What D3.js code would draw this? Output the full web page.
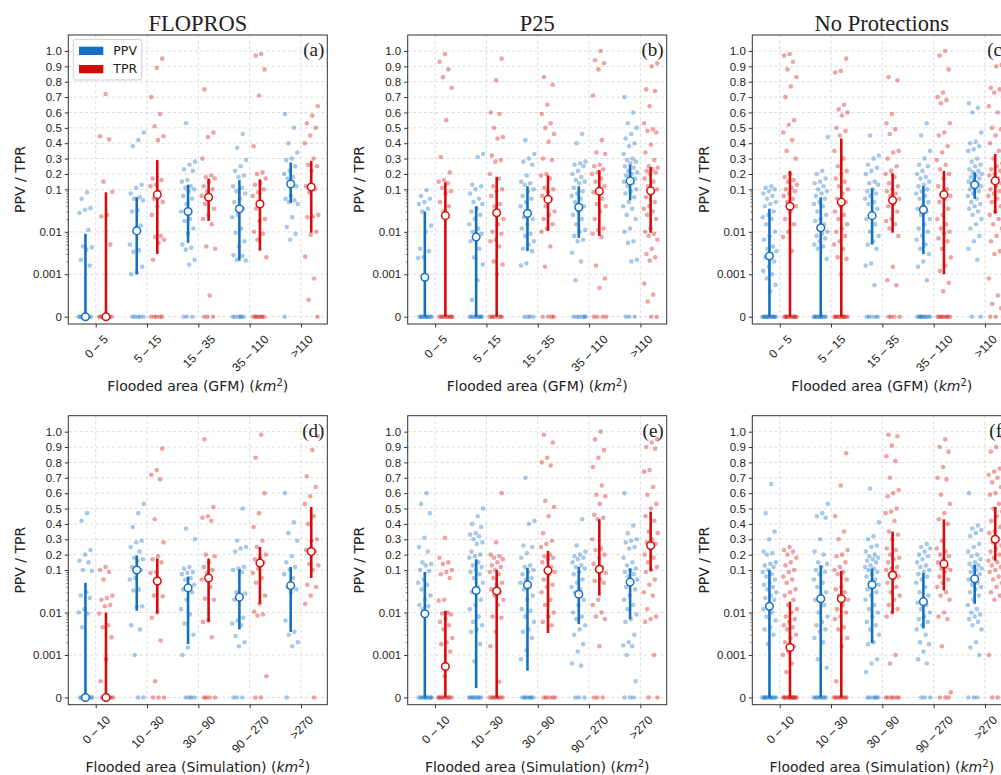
<!DOCTYPE html>
<html>
<head>
<meta charset="utf-8">
<script src="https://cdn.jsdelivr.net/npm/d3@7"></script>
<style>
  body { margin: 0; background: #fff; }
  text { fill: #222; }
</style>
</head>
<body>
<script>
// categories and labels
var gfmCats = ["0 – 5", "5 – 15", "15 – 35", "35 – 110", ">110"]
var simCats = ["0 – 10", "10 – 30", "30 – 90", "90 – 270", ">270"]
var panelTitles = ["FLOPROS", "P25", "No Protections"]
var panelTags = ["(a)", "(b)", "(c)", "(d)", "(e)", "(f)"]
var yTickValues = [0, 0.001, 0.01, 0.1, 0.2, 0.3, 0.4, 0.5, 0.6, 0.7, 0.8, 0.9, 1.0]
var yTickLabels = ["0", "0.001", "0.01", "0.1", "0.2", "0.3", "0.4", "0.5", "0.6", "0.7", "0.8", "0.9", "1.0"]
var yMinorTicks = [0.002, 0.003, 0.004, 0.005, 0.006, 0.007, 0.008, 0.009,
                   0.02, 0.03, 0.04, 0.05, 0.06, 0.07, 0.08, 0.09]

// bars per category: [median, low, high]
var aPpvBars = [[0, 0, 0.009], [0.0105, 0.001, 0.065], [0.03, 0.0055, 0.13], [0.035, 0.0021, 0.16], [0.135, 0.048, 0.275]]
var aTprBars = [[0, 0, 0.085], [0.075, 0.003, 0.29], [0.065, 0.018, 0.17], [0.045, 0.0036, 0.165], [0.115, 0.0095, 0.285]]
var bPpvBars = [[0.00093, 0, 0.03], [0.0075, 0, 0.04], [0.027, 0.0035, 0.12], [0.038, 0.0072, 0.12], [0.155, 0.055, 0.26]]
var bTprBars = [[0.024, 0, 0.145], [0.028, 0, 0.18], [0.058, 0.0105, 0.19], [0.09, 0.008, 0.225], [0.092, 0.0095, 0.245]]
var cPpvBars = [[0.0027, 0, 0.035], [0.0125, 0, 0.065], [0.024, 0.005, 0.105], [0.033, 0.003, 0.12], [0.13, 0.06, 0.21]]
var cTprBars = [[0.04, 0, 0.22], [0.05, 0, 0.43], [0.055, 0.0095, 0.205], [0.075, 0.001, 0.22], [0.155, 0.027, 0.33]]
var dPpvBars = [[0, 0, 0.05], [0.1, 0.011, 0.195], [0.038, 0.0018, 0.07], [0.023, 0.004, 0.105], [0.043, 0.0035, 0.12]]
var dTprBars = [[0, 0, 0.01], [0.055, 0.0095, 0.175], [0.065, 0.006, 0.175], [0.145, 0.016, 0.25], [0.22, 0.065, 0.51]]
var ePpvBars = [[0.0093, 0, 0.09], [0.033, 0.00022, 0.17], [0.045, 0.00063, 0.115], [0.027, 0.0053, 0.12], [0.052, 0.007, 0.11]]
var eTprBars = [[0.00073, 0, 0.011], [0.032, 0, 0.1], [0.097, 0.0033, 0.225], [0.105, 0.025, 0.43], [0.26, 0.095, 0.48]]
var fPpvBars = [[0.014, 0, 0.1], [0.021, 0, 0.13], [0.045, 0.0019, 0.11], [0.018, 0.0042, 0.085], [0.062, 0.016, 0.135]]
var fTprBars = [[0.0015, 0, 0.018], [0.021, 0, 0.095], [0.075, 0.0095, 0.35], [0.14, 0.033, 0.43], [0.3, 0.16, 0.51]]

// individual event values per category
var aPpvPts = [
  [0.085, 0.06, 0.036, 0.033, 0.028, 0.011, 0.0045, 0.0043, 0.0038, 0.0022, 0.0016, 0, 0, 0, 0, 0, 0, 0, 0],
  [0.47, 0.42, 0.38, 0.13, 0.11, 0.08, 0.065, 0.06, 0.055, 0.032, 0.03, 0.014, 0.012, 0.005, 0.0037, 0.0034, 0.0015, 0.0011, 0.001, 0, 0, 0, 0, 0],
  [0.53, 0.28, 0.26, 0.23, 0.22, 0.16, 0.15, 0.12, 0.11, 0.1, 0.09, 0.07, 0.06, 0.045, 0.03, 0.02, 0.018, 0.012, 0.009, 0.005, 0.0042, 0.0038, 0.0022, 0.0017, 0, 0, 0],
  [0.46, 0.37, 0.29, 0.25, 0.22, 0.19, 0.18, 0.12, 0.11, 0.09, 0.08, 0.06, 0.05, 0.035, 0.025, 0.022, 0.012, 0.0095, 0.006, 0.0045, 0.0028, 0.0027, 0.0022, 0.0021, 0, 0, 0, 0, 0, 0],
  [0.59, 0.5, 0.4, 0.34, 0.3, 0.29, 0.25, 0.22, 0.2, 0.18, 0.17, 0.12, 0.07, 0.06, 0.055, 0.05, 0.045, 0.022, 0.013, 0.009, 0.0065, 0]
]
var aTprPts = [
  [0.72, 0.445, 0.425, 0.15, 0.088, 0.025, 0.023, 0.005, 0, 0, 0, 0, 0, 0, 0, 0],
  [0.95, 0.89, 0.7, 0.59, 0.51, 0.445, 0.42, 0.17, 0.16, 0.13, 0.12, 0.09, 0.06, 0.05, 0.04, 0.025, 0.008, 0.0075, 0.0065, 0.0055, 0.0022, 0, 0, 0, 0, 0],
  [0.75, 0.47, 0.44, 0.3, 0.19, 0.18, 0.17, 0.15, 0.12, 0.1, 0.09, 0.07, 0.06, 0.045, 0.035, 0.025, 0.02, 0.015, 0.0045, 0.004, 0.0005, 0, 0, 0],
  [0.98, 0.97, 0.88, 0.71, 0.38, 0.21, 0.2, 0.17, 0.14, 0.13, 0.1, 0.085, 0.07, 0.05, 0.035, 0.02, 0.018, 0.01, 0.009, 0.0065, 0.0025, 0, 0, 0, 0, 0, 0, 0],
  [0.64, 0.58, 0.53, 0.5, 0.45, 0.4, 0.3, 0.26, 0.25, 0.22, 0.12, 0.1, 0.085, 0.025, 0.023, 0.022, 0.01, 0.0085, 0.0026, 0.0009, 0.0004, 0]
]
var bPpvPts = [
  [0.095, 0.07, 0.06, 0.05, 0.045, 0.035, 0.03, 0.014, 0.01, 0.004, 0.0035, 0.0025, 0.0024, 0, 0, 0, 0, 0, 0, 0, 0, 0, 0],
  [0.33, 0.31, 0.13, 0.12, 0.1, 0.08, 0.06, 0.05, 0.045, 0.035, 0.03, 0.025, 0.02, 0.015, 0.012, 0.01, 0.009, 0.008, 0.006, 0.004, 0.0025, 0.0017, 0.00086, 0.0004, 0, 0, 0, 0, 0, 0, 0, 0, 0],
  [0.42, 0.33, 0.3, 0.28, 0.26, 0.19, 0.15, 0.14, 0.13, 0.1, 0.09, 0.07, 0.06, 0.05, 0.04, 0.03, 0.022, 0.02, 0.015, 0.012, 0.009, 0.008, 0.006, 0.005, 0.004, 0.0035, 0.0018, 0.0016, 0, 0, 0, 0],
  [0.46, 0.4, 0.28, 0.27, 0.26, 0.25, 0.22, 0.2, 0.18, 0.16, 0.15, 0.14, 0.11, 0.09, 0.08, 0.07, 0.06, 0.05, 0.04, 0.03, 0.025, 0.02, 0.015, 0.011, 0.01, 0.008, 0.0065, 0.006, 0.0032, 0.002, 0.00086, 0, 0, 0, 0, 0, 0],
  [0.7, 0.6, 0.53, 0.5, 0.46, 0.43, 0.4, 0.38, 0.33, 0.3, 0.29, 0.28, 0.27, 0.25, 0.24, 0.22, 0.21, 0.2, 0.19, 0.17, 0.16, 0.15, 0.14, 0.12, 0.1, 0.09, 0.08, 0.065, 0.05, 0.04, 0.035, 0.025, 0.02, 0.012, 0.01, 0.006, 0.0055, 0.0022, 0.002, 0, 0, 0]
]
var bTprPts = [
  [0.98, 0.93, 0.88, 0.83, 0.76, 0.55, 0.31, 0.21, 0.16, 0.15, 0.14, 0.11, 0.09, 0.08, 0.05, 0.04, 0.03, 0, 0, 0, 0, 0, 0, 0, 0, 0],
  [0.95, 0.81, 0.6, 0.59, 0.5, 0.44, 0.43, 0.32, 0.29, 0.28, 0.2, 0.17, 0.12, 0.1, 0.09, 0.07, 0.045, 0.04, 0.02, 0.015, 0.01, 0.009, 0.0065, 0.006, 0.0045, 0.002, 0.0017, 0.001, 0, 0, 0, 0, 0, 0, 0],
  [0.83, 0.78, 0.65, 0.59, 0.53, 0.5, 0.46, 0.41, 0.3, 0.29, 0.2, 0.19, 0.17, 0.11, 0.1, 0.09, 0.07, 0.06, 0.04, 0.03, 0.025, 0.02, 0.015, 0.012, 0.01, 0.0045, 0.0015, 0, 0, 0, 0],
  [1.0, 0.94, 0.92, 0.88, 0.71, 0.42, 0.34, 0.33, 0.26, 0.25, 0.23, 0.21, 0.2, 0.17, 0.15, 0.12, 0.1, 0.085, 0.06, 0.045, 0.04, 0.03, 0.02, 0.012, 0.011, 0.009, 0.0075, 0.0016, 0.0009, 0.00068, 0, 0, 0, 0],
  [0.92, 0.9, 0.75, 0.74, 0.64, 0.53, 0.49, 0.48, 0.47, 0.39, 0.34, 0.29, 0.25, 0.24, 0.23, 0.22, 0.21, 0.2, 0.17, 0.15, 0.12, 0.1, 0.08, 0.065, 0.05, 0.04, 0.035, 0.03, 0.025, 0.02, 0.012, 0.01, 0.009, 0.008, 0.0065, 0.004, 0.003, 0.0025, 0.0021, 0.00078, 0.00052, 0.00036, 0, 0]
]
var cPpvPts = [
  [0.12, 0.11, 0.1, 0.09, 0.08, 0.07, 0.06, 0.05, 0.045, 0.04, 0.03, 0.025, 0.022, 0.02, 0.015, 0.01, 0.008, 0.0065, 0.0045, 0.004, 0.0035, 0.003, 0.0025, 0.002, 0.0015, 0.0012, 0.001, 0.0009, 0.00075, 0.0006, 0, 0, 0, 0, 0, 0, 0, 0, 0, 0, 0, 0],
  [0.44, 0.22, 0.2, 0.17, 0.15, 0.14, 0.12, 0.1, 0.09, 0.08, 0.07, 0.06, 0.05, 0.045, 0.04, 0.03, 0.025, 0.02, 0.018, 0.015, 0.012, 0.01, 0.009, 0.008, 0.007, 0.006, 0.005, 0.0045, 0.004, 0.0023, 0, 0, 0, 0, 0, 0, 0, 0, 0, 0],
  [0.45, 0.32, 0.3, 0.26, 0.24, 0.22, 0.2, 0.15, 0.14, 0.13, 0.1, 0.09, 0.08, 0.07, 0.06, 0.05, 0.045, 0.035, 0.025, 0.02, 0.015, 0.01, 0.008, 0.006, 0.005, 0.004, 0.0018, 0.0016, 0.00074, 0, 0, 0, 0, 0],
  [0.53, 0.45, 0.35, 0.3, 0.26, 0.25, 0.22, 0.2, 0.18, 0.17, 0.15, 0.13, 0.12, 0.1, 0.09, 0.08, 0.07, 0.06, 0.05, 0.04, 0.035, 0.03, 0.025, 0.02, 0.015, 0.012, 0.01, 0.008, 0.0065, 0.005, 0.004, 0.003, 0.002, 0.0015, 0.00086, 0, 0, 0, 0, 0, 0, 0, 0, 0],
  [0.66, 0.63, 0.6, 0.47, 0.41, 0.4, 0.38, 0.36, 0.35, 0.3, 0.28, 0.26, 0.25, 0.23, 0.22, 0.21, 0.2, 0.19, 0.18, 0.17, 0.16, 0.15, 0.14, 0.13, 0.12, 0.11, 0.1, 0.09, 0.08, 0.07, 0.06, 0.05, 0.045, 0.04, 0.035, 0.03, 0.025, 0.02, 0.015, 0.012, 0.008, 0.006, 0.004, 0.0022, 0, 0]
]
var cTprPts = [
  [0.98, 0.97, 0.93, 0.88, 0.83, 0.77, 0.7, 0.55, 0.52, 0.47, 0.42, 0.35, 0.3, 0.2, 0.18, 0.16, 0.15, 0.13, 0.11, 0.1, 0.09, 0.08, 0.07, 0.06, 0.05, 0.04, 0.03, 0.02, 0.015, 0.01, 0.0075, 0.0035, 0, 0, 0, 0, 0, 0, 0, 0, 0, 0],
  [0.95, 0.87, 0.86, 0.65, 0.62, 0.6, 0.58, 0.5, 0.48, 0.45, 0.35, 0.3, 0.25, 0.22, 0.2, 0.17, 0.15, 0.12, 0.1, 0.08, 0.06, 0.05, 0.04, 0.03, 0.025, 0.02, 0.015, 0.012, 0.01, 0.008, 0.006, 0.005, 0.004, 0.0025, 0.0023, 0.001, 0, 0, 0, 0, 0, 0, 0, 0, 0, 0],
  [0.83, 0.81, 0.59, 0.53, 0.49, 0.46, 0.35, 0.34, 0.3, 0.25, 0.22, 0.2, 0.18, 0.14, 0.12, 0.1, 0.09, 0.08, 0.07, 0.06, 0.045, 0.04, 0.03, 0.02, 0.018, 0.015, 0.012, 0.008, 0.0015, 0.00086, 0.00074, 0, 0, 0, 0],
  [1.0, 0.97, 0.88, 0.73, 0.7, 0.68, 0.66, 0.53, 0.47, 0.45, 0.38, 0.34, 0.29, 0.26, 0.23, 0.2, 0.17, 0.12, 0.1, 0.08, 0.07, 0.06, 0.05, 0.035, 0.025, 0.02, 0.015, 0.012, 0.01, 0.009, 0.007, 0.006, 0.004, 0.0025, 0.0016, 0.0012, 0.0008, 0.0006, 0, 0, 0, 0, 0, 0, 0, 0],
  [0.91, 0.9, 0.76, 0.75, 0.73, 0.64, 0.6, 0.5, 0.49, 0.45, 0.4, 0.35, 0.3, 0.27, 0.25, 0.23, 0.22, 0.2, 0.19, 0.17, 0.15, 0.14, 0.12, 0.1, 0.09, 0.08, 0.07, 0.06, 0.05, 0.04, 0.03, 0.025, 0.02, 0.015, 0.012, 0.008, 0.006, 0.0035, 0.003, 0.0009, 0.0005, 0.0003, 0.0002, 0, 0]
]
var dPpvPts = [
  [0.47, 0.42, 0.23, 0.2, 0.16, 0.15, 0.1, 0.095, 0.03, 0.025, 0.022, 0.012, 0.01, 0.0095, 0.0045, 0, 0, 0, 0, 0, 0, 0, 0],
  [0.53, 0.47, 0.38, 0.29, 0.28, 0.25, 0.22, 0.18, 0.17, 0.16, 0.12, 0.1, 0.065, 0.06, 0.035, 0.033, 0.014, 0.0135, 0.005, 0.004, 0.001, 0, 0],
  [0.37, 0.3, 0.12, 0.11, 0.09, 0.085, 0.08, 0.065, 0.06, 0.045, 0.04, 0.035, 0.03, 0.02, 0.012, 0.009, 0.0055, 0.003, 0.0015, 0.001, 0, 0, 0, 0],
  [0.5, 0.29, 0.25, 0.24, 0.22, 0.12, 0.11, 0.1, 0.09, 0.03, 0.028, 0.025, 0.02, 0.0075, 0.0065, 0.0055, 0.005, 0.0028, 0.002, 0.0016, 0, 0, 0],
  [0.6, 0.41, 0.34, 0.29, 0.19, 0.15, 0.12, 0.1, 0.08, 0.065, 0.04, 0.035, 0.03, 0.0065, 0.0035, 0.003, 0.002, 0.0016, 0]
]
var dTprPts = [
  [0.12, 0.1, 0.09, 0.06, 0.025, 0.022, 0.02, 0.015, 0.014, 0.0095, 0.005, 0.0045, 0.0026, 0.0009, 0.00038, 0, 0, 0, 0, 0, 0, 0],
  [0.89, 0.75, 0.72, 0.69, 0.43, 0.28, 0.19, 0.17, 0.15, 0.09, 0.085, 0.05, 0.025, 0.024, 0.01, 0.0075, 0.0022, 0.00038, 0, 0, 0],
  [0.95, 0.51, 0.45, 0.44, 0.42, 0.2, 0.19, 0.15, 0.12, 0.1, 0.085, 0.06, 0.04, 0.021, 0.02, 0.0065, 0.006, 0.0026, 0, 0, 0, 0],
  [0.98, 0.83, 0.6, 0.47, 0.38, 0.29, 0.25, 0.2, 0.18, 0.17, 0.15, 0.11, 0.085, 0.065, 0.05, 0.025, 0.016, 0.0105, 0.009, 0.0085, 0.0005, 0, 0],
  [0.97, 0.88, 0.71, 0.64, 0.58, 0.53, 0.45, 0.4, 0.3, 0.29, 0.23, 0.22, 0.14, 0.13, 0.1, 0.045, 0.04, 0.025, 0.016, 0]
]
var ePpvPts = [
  [0.6, 0.53, 0.47, 0.31, 0.25, 0.22, 0.15, 0.14, 0.13, 0.1, 0.095, 0.06, 0.05, 0.045, 0.035, 0.025, 0.02, 0.015, 0.014, 0.012, 0, 0, 0, 0, 0, 0, 0, 0, 0, 0],
  [0.5, 0.45, 0.4, 0.38, 0.34, 0.33, 0.32, 0.3, 0.28, 0.27, 0.22, 0.2, 0.19, 0.18, 0.15, 0.13, 0.12, 0.1, 0.09, 0.08, 0.065, 0.05, 0.04, 0.03, 0.02, 0.015, 0.012, 0.008, 0.006, 0.005, 0.004, 0.0035, 0.0018, 0.00085, 0, 0, 0, 0, 0, 0, 0, 0],
  [0.7, 0.42, 0.4, 0.26, 0.25, 0.21, 0.18, 0.13, 0.12, 0.1, 0.09, 0.08, 0.065, 0.06, 0.05, 0.04, 0.035, 0.025, 0.02, 0.012, 0.011, 0.008, 0.006, 0.004, 0.0035, 0.0025, 0.0013, 0.0009, 0, 0, 0, 0, 0, 0, 0],
  [0.43, 0.26, 0.22, 0.2, 0.19, 0.18, 0.17, 0.15, 0.13, 0.12, 0.11, 0.09, 0.08, 0.06, 0.05, 0.04, 0.035, 0.03, 0.02, 0.015, 0.01, 0.008, 0.007, 0.005, 0.004, 0.003, 0.0018, 0.0012, 0.0008, 0.00075, 0, 0, 0],
  [0.6, 0.39, 0.34, 0.3, 0.29, 0.28, 0.25, 0.24, 0.18, 0.15, 0.13, 0.11, 0.1, 0.09, 0.08, 0.07, 0.06, 0.05, 0.04, 0.035, 0.025, 0.02, 0.015, 0.012, 0.009, 0.007, 0.006, 0.003, 0.002, 0.0017, 0.0016, 0.001, 0.00038, 0, 0, 0]
]
var eTprPts = [
  [0.31, 0.18, 0.15, 0.14, 0.1, 0.09, 0.08, 0.065, 0.02, 0.019, 0.01, 0.0095, 0.009, 0.007, 0.006, 0.005, 0.004, 0.0025, 0.002, 0.0018, 0.0012, 0.0005, 0, 0, 0, 0, 0, 0, 0, 0, 0],
  [0.6, 0.28, 0.2, 0.19, 0.18, 0.17, 0.15, 0.13, 0.12, 0.1, 0.09, 0.08, 0.065, 0.05, 0.045, 0.035, 0.03, 0.025, 0.02, 0.015, 0.008, 0.0075, 0.0035, 0.0016, 0.00037, 0, 0, 0, 0, 0, 0, 0, 0],
  [0.98, 0.93, 0.83, 0.8, 0.78, 0.55, 0.51, 0.45, 0.34, 0.29, 0.27, 0.25, 0.2, 0.19, 0.18, 0.17, 0.15, 0.12, 0.1, 0.09, 0.08, 0.06, 0.045, 0.04, 0.03, 0.02, 0.015, 0.01, 0.008, 0.006, 0.005, 0, 0, 0, 0, 0],
  [1.0, 0.95, 0.88, 0.83, 0.77, 0.65, 0.59, 0.58, 0.53, 0.46, 0.44, 0.43, 0.3, 0.24, 0.23, 0.2, 0.18, 0.14, 0.12, 0.1, 0.085, 0.06, 0.055, 0.05, 0.02, 0.015, 0.01, 0.008, 0.007, 0.0016, 0, 0, 0],
  [0.95, 0.93, 0.9, 0.89, 0.75, 0.74, 0.64, 0.59, 0.53, 0.5, 0.45, 0.42, 0.35, 0.34, 0.3, 0.28, 0.27, 0.25, 0.2, 0.18, 0.15, 0.12, 0.1, 0.09, 0.06, 0.045, 0.03, 0.025, 0.012, 0.008, 0.007, 0.006, 0.001, 0, 0]
]
var fPpvPts = [
  [0.66, 0.47, 0.35, 0.3, 0.22, 0.21, 0.2, 0.15, 0.14, 0.13, 0.12, 0.1, 0.09, 0.08, 0.07, 0.06, 0.05, 0.045, 0.04, 0.035, 0.03, 0.025, 0.022, 0.02, 0.015, 0.012, 0.01, 0.008, 0.0065, 0.0045, 0.004, 0.003, 0.0018, 0, 0, 0, 0, 0, 0, 0, 0, 0, 0, 0],
  [0.53, 0.47, 0.45, 0.44, 0.3, 0.22, 0.2, 0.15, 0.14, 0.12, 0.1, 0.09, 0.08, 0.06, 0.05, 0.04, 0.03, 0.025, 0.02, 0.015, 0.01, 0.008, 0.006, 0.005, 0.004, 0.0035, 0.0025, 0.002, 0.0009, 0.0007, 0, 0, 0, 0, 0, 0, 0, 0],
  [0.63, 0.41, 0.32, 0.3, 0.26, 0.25, 0.22, 0.2, 0.19, 0.18, 0.17, 0.16, 0.15, 0.13, 0.12, 0.11, 0.1, 0.09, 0.08, 0.07, 0.06, 0.05, 0.045, 0.04, 0.035, 0.03, 0.025, 0.02, 0.015, 0.012, 0.01, 0.008, 0.006, 0.005, 0.004, 0.003, 0.002, 0.0018, 0.0009, 0.0008, 0.0006, 0, 0, 0, 0, 0, 0],
  [0.27, 0.25, 0.24, 0.22, 0.2, 0.19, 0.17, 0.15, 0.13, 0.12, 0.1, 0.09, 0.08, 0.07, 0.06, 0.05, 0.04, 0.03, 0.025, 0.02, 0.017, 0.015, 0.012, 0.01, 0.008, 0.007, 0.006, 0.005, 0.004, 0.003, 0.002, 0.0018, 0.0012, 0.0009, 0.0008, 0, 0, 0],
  [0.6, 0.39, 0.37, 0.36, 0.34, 0.32, 0.27, 0.25, 0.22, 0.2, 0.19, 0.17, 0.15, 0.14, 0.13, 0.12, 0.11, 0.1, 0.09, 0.08, 0.07, 0.06, 0.05, 0.045, 0.04, 0.035, 0.03, 0.025, 0.02, 0.015, 0.012, 0.01, 0.009, 0.008, 0.007, 0.006, 0.005, 0.004, 0.002, 0.0015, 0.001, 0, 0, 0]
]
var fTprPts = [
  [0.25, 0.23, 0.22, 0.2, 0.18, 0.15, 0.13, 0.1, 0.09, 0.07, 0.06, 0.05, 0.035, 0.03, 0.025, 0.02, 0.015, 0.012, 0.01, 0.008, 0.007, 0.006, 0.005, 0.0045, 0.004, 0.003, 0.0025, 0.002, 0.0016, 0.0012, 0.001, 0.0008, 0.0006, 0, 0, 0, 0, 0, 0, 0, 0, 0, 0, 0, 0],
  [0.86, 0.65, 0.45, 0.35, 0.3, 0.23, 0.2, 0.19, 0.15, 0.12, 0.1, 0.09, 0.08, 0.06, 0.04, 0.035, 0.03, 0.025, 0.02, 0.015, 0.012, 0.01, 0.008, 0.007, 0.0045, 0.004, 0.0025, 0.0016, 0.00038, 0, 0, 0, 0, 0, 0, 0, 0],
  [0.98, 0.97, 0.91, 0.84, 0.81, 0.7, 0.62, 0.6, 0.58, 0.5, 0.48, 0.47, 0.42, 0.35, 0.33, 0.3, 0.24, 0.23, 0.2, 0.18, 0.17, 0.15, 0.12, 0.11, 0.1, 0.09, 0.08, 0.07, 0.06, 0.05, 0.04, 0.03, 0.025, 0.02, 0.015, 0.012, 0.01, 0.008, 0.001, 0.0008, 0, 0, 0, 0, 0, 0],
  [0.95, 0.9, 0.87, 0.77, 0.7, 0.69, 0.59, 0.53, 0.47, 0.43, 0.4, 0.29, 0.24, 0.22, 0.2, 0.19, 0.17, 0.15, 0.12, 0.11, 0.1, 0.09, 0.07, 0.06, 0.05, 0.04, 0.03, 0.025, 0.02, 0.01, 0.008, 0.007, 0.0016, 0.00012, 0, 0, 0],
  [0.97, 0.9, 0.87, 0.76, 0.74, 0.72, 0.7, 0.67, 0.64, 0.6, 0.59, 0.53, 0.5, 0.48, 0.45, 0.42, 0.38, 0.35, 0.34, 0.3, 0.28, 0.26, 0.24, 0.22, 0.2, 0.18, 0.16, 0.15, 0.13, 0.12, 0.1, 0.09, 0.07, 0.06, 0.05, 0.04, 0.03, 0.025, 0.02, 0.001, 0, 0]
]

var BLUE = "#1570c4", RED = "#d50c0c"

var panels = [
  {cats: gfmCats, ppvBars: aPpvBars, tprBars: aTprBars, ppvPts: aPpvPts, tprPts: aTprPts, xLabel: "GFM"},
  {cats: gfmCats, ppvBars: bPpvBars, tprBars: bTprBars, ppvPts: bPpvPts, tprPts: bTprPts, xLabel: "GFM"},
  {cats: gfmCats, ppvBars: cPpvBars, tprBars: cTprBars, ppvPts: cPpvPts, tprPts: cTprPts, xLabel: "GFM"},
  {cats: simCats, ppvBars: dPpvBars, tprBars: dTprBars, ppvPts: dPpvPts, tprPts: dTprPts, xLabel: "Simulation"},
  {cats: simCats, ppvBars: ePpvBars, tprBars: eTprBars, ppvPts: ePpvPts, tprPts: eTprPts, xLabel: "Simulation"},
  {cats: simCats, ppvBars: fPpvBars, tprBars: fTprBars, ppvPts: fPpvPts, tprPts: fTprPts, xLabel: "Simulation"}
]

var colLeft = [68.3, 407.7, 752.3]
var rowTop = [35, 415.7]
var W = 259, H = 289

// axis transform: linear 0..0.001, log 0.001..0.1, linear 0.1..1
function tf(v) {
  if (v <= 0.001) return -4 + v / 0.001
  if (v < 0.1) return Math.log10(v)
  return -1 + (v - 0.1) * 3.62
}

// spread points sideways (position only)
function jitter(j, i) {
  var u = ((j + 1) * 0.6180339887 + i * 0.371) % 1
  return (u - 0.5) * 0.28
}

var svg = d3.select("body").append("svg")
  .attr("width", 1001)
  .attr("height", 775)
  .style("font-family", "'DejaVu Sans', sans-serif")

svg.append("rect").attr("width", 1001).attr("height", 775).attr("fill", "#fff")

panels.forEach(function(p, k) {
  var row = Math.floor(k / 3), col = k % 3
  var left = colLeft[col], top = rowTop[row]

  var x = d3.scaleLinear().domain([-0.534, 4.513]).range([0, W])
  var yLin = d3.scaleLinear().domain([-4.171, 2.634]).range([H, 0])
  var y = function(v) { return yLin(tf(v)) }

  var g = svg.append("g").attr("transform", "translate(" + left + "," + top + ")")

  // grid
  g.selectAll(".hgrid").data(yTickValues).enter().append("line")
    .attr("x1", 0).attr("x2", W)
    .attr("y1", y).attr("y2", y)
    .attr("stroke", "#d4d4d4").attr("stroke-width", 0.8)
    .attr("stroke-dasharray", "3,2.5")
  g.selectAll(".vgrid").data(d3.range(5)).enter().append("line")
    .attr("y1", 0).attr("y2", H)
    .attr("x1", x).attr("x2", x)
    .attr("stroke", "#d4d4d4").attr("stroke-width", 0.8)
    .attr("stroke-dasharray", "3,2.5")

  // scatter
  var series = [
    {pts: p.ppvPts, bars: p.ppvBars, off: -0.2, color: BLUE},
    {pts: p.tprPts, bars: p.tprBars, off: 0.2, color: RED}
  ]
  series.forEach(function(s) {
    s.pts.forEach(function(vals, i) {
      g.append("g").selectAll("circle")
        .data(vals)
        .enter()
        .append("circle")
        .attr("cx", function(d, j) { return x(i + s.off + jitter(j, i + (s.off > 0 ? 5 : 0))) })
        .attr("cy", function(d) { return y(d) })
        .attr("r", 2.3)
        .attr("fill", s.color)
        .attr("fill-opacity", 0.38)
    })
  })

  // bars and medians
  series.forEach(function(s) {
    g.append("g").selectAll("line")
      .data(s.bars)
      .enter()
      .append("line")
      .attr("x1", function(d, i) { return x(i + s.off) })
      .attr("x2", function(d, i) { return x(i + s.off) })
      .attr("y1", function(d) { return y(d[1]) })
      .attr("y2", function(d) { return y(d[2]) })
      .attr("stroke", s.color)
      .attr("stroke-width", 2.6)
    g.append("g").selectAll("circle")
      .data(s.bars)
      .enter()
      .append("circle")
      .attr("cx", function(d, i) { return x(i + s.off) })
      .attr("cy", function(d) { return y(d[0]) })
      .attr("r", 3.8)
      .attr("fill", "#fff")
      .attr("stroke", s.color)
      .attr("stroke-width", 1.5)
  })

  // axes
  var yAxis = d3.axisLeft(yLin)
    .tickValues(yTickValues.map(tf))
    .tickFormat(function(d, i) { return yTickLabels[i] })
    .tickSize(3.5)
    .tickPadding(3)
  var ya = g.append("g").call(yAxis)
  ya.select(".domain").remove()
  ya.selectAll("text").style("font-size", "11.5px").attr("fill", "#222")
  ya.selectAll("line").attr("stroke", "#333")

  var yMinor = d3.axisLeft(yLin)
    .tickValues(yMinorTicks.map(tf))
    .tickFormat("")
    .tickSize(2)
  var ym = g.append("g").call(yMinor)
  ym.select(".domain").remove()
  ym.selectAll("line").attr("stroke", "#333").attr("stroke-width", 0.6)

  var xAxis = d3.axisBottom(x)
    .tickValues(d3.range(5))
    .tickFormat(function(i) { return p.cats[i] })
    .tickSize(3.5)
  var xa = g.append("g").attr("transform", "translate(0," + H + ")").call(xAxis)
  xa.select(".domain").remove()
  xa.selectAll("line").attr("stroke", "#333")
  // rotated labels, box centred under the tick
  xa.selectAll("text")
    .attr("x", 0).attr("y", 0).attr("dy", 0)
    .attr("text-anchor", "middle")
    .style("font-size", "12px")
    .attr("fill", "#222")
    .attr("transform", function() {
      var L = this.getComputedTextLength()
      var half = (L + 8.8) * 0.7071 / 2
      return "translate(3," + (13 + half) + ") rotate(-45)"
    })

  // frame
  g.append("rect")
    .attr("width", W).attr("height", H)
    .attr("fill", "none")
    .attr("stroke", "#333")
    .attr("stroke-width", 1)

  // labels
  g.append("text")
    .attr("transform", "translate(-43.8," + (H / 2) + ") rotate(-90)")
    .attr("text-anchor", "middle")
    .style("font-size", "14px")
    .text("PPV / TPR")

  var xl = g.append("text")
    .attr("x", W / 2).attr("y", 356.3)
    .attr("text-anchor", "middle")
    .style("font-size", "14px")
  xl.append("tspan").text("Flooded area (" + p.xLabel + ") (")
  xl.append("tspan").style("font-style", "italic").text("km")
  xl.append("tspan").attr("dy", -5).style("font-size", "10px").text("2")
  xl.append("tspan").attr("dy", 5).text(")")

  g.append("text")
    .attr("x", W - 3).attr("y", 21)
    .attr("text-anchor", "end")
    .style("font-family", "'Liberation Serif', serif")
    .style("font-size", "19px")
    .text(panelTags[k])

  if (row === 0) {
    g.append("text")
      .attr("x", W / 2).attr("y", -4.3)
      .attr("text-anchor", "middle")
      .style("font-family", "'Liberation Serif', serif")
      .style("font-size", "22.5px")
      .text(panelTitles[col])
  }

  if (k === 0) {
    var leg = g.append("g").attr("transform", "translate(5,4.3)")
    leg.append("rect")
      .attr("width", 68.5).attr("height", 40.7)
      .attr("rx", 2.5)
      .attr("fill", "#fff").attr("fill-opacity", 0.85)
      .attr("stroke", "#cfcfcf")
    var items = [{name: "PPV", color: BLUE}, {name: "TPR", color: RED}]
    items.forEach(function(it, i) {
      leg.append("rect")
        .attr("x", 5.7).attr("y", 7.4 + i * 18.3)
        .attr("width", 24.3).attr("height", 8.3)
        .attr("fill", it.color)
      leg.append("text")
        .attr("x", 40).attr("y", 15.5 + i * 18.3)
        .style("font-size", "12.5px")
        .text(it.name)
    })
  }
})
</script>
</body>
</html>
